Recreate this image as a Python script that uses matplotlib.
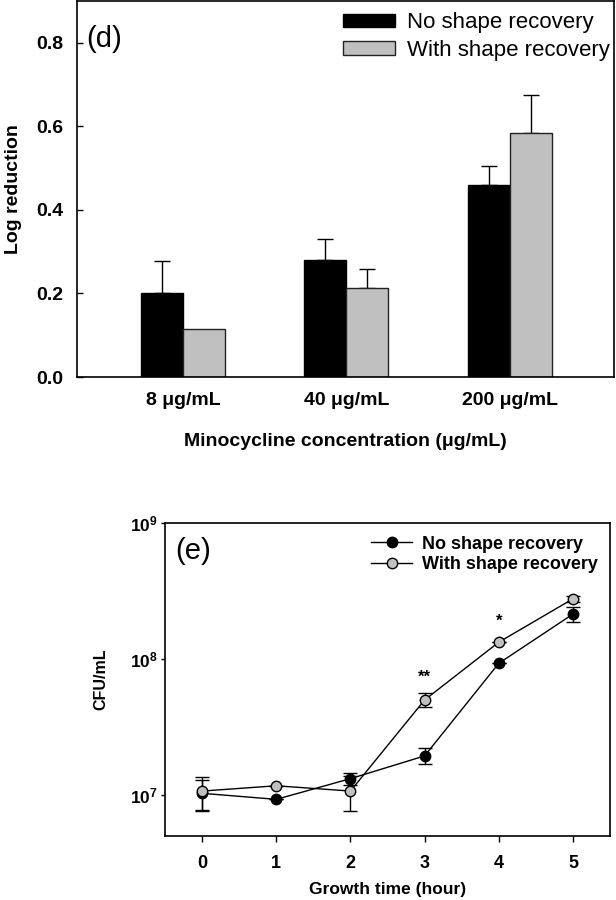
import numpy as np
import matplotlib
matplotlib.use("Agg")
import matplotlib.pyplot as plt
from matplotlib.ticker import FixedLocator, FixedFormatter, NullLocator

plt.rcParams['font.family'] = ['Liberation Sans', 'DejaVu Sans']
plt.rcParams['mathtext.fontset'] = 'custom'
plt.rcParams['mathtext.rm'] = 'Liberation Sans'
plt.rcParams['mathtext.bf'] = 'Liberation Sans:bold'

# ---------------- Data: panel (d) ----------------
concentrations = ["8 \u03bcg/mL", "40 \u03bcg/mL", "200 \u03bcg/mL"]
logred_no_recovery = [0.200, 0.281, 0.459]
logred_no_recovery_err = [0.077, 0.050, 0.047]
logred_with_recovery = [0.1155, 0.213, 0.584]
logred_with_recovery_err = [0.0, 0.046, 0.092]
series_labels = ["No shape recovery", "With shape recovery"]

# ---------------- Data: panel (e) ----------------
growth_time = [0, 1, 2, 3, 4, 5]
cfu_no_recovery = [1.03e7, 9.3e6, 1.32e7, 1.94e7, 9.3e7, 2.14e8]
cfu_no_recovery_err = [2.6e6, 0.0, 1.4e6, 2.6e6, 0.0, 2.7e7]
cfu_with_recovery = [1.07e7, 1.17e7, 1.07e7, 5.0e7, 1.33e8, 2.77e8]
cfu_with_recovery_err = [2.9e6, 0.0, 3.0e6, 5.9e6, 0.0, 1.5e7]
sig_times = [3, 4]
sig_marks = ["**", "*"]
sig_levels = [7.4e7, 1.9e8]
yticks_e = [1e7, 1e8, 1e9]
yticklabels_e = [r"$\mathbf{10^{7}}$", r"$\mathbf{10^{8}}$", r"$\mathbf{10^{9}}$"]

GRAY = "#c0c0c0"

fig = plt.figure(figsize=(6.16, 9.0), dpi=100)

# ================= Panel (d) =================
ax1 = fig.add_axes([0.125, 0.5811, 0.8718, 0.4178])
x = np.arange(len(concentrations))
w = 0.257
ax1.bar(x - w / 2, logred_no_recovery, w, color="black", edgecolor="black",
        linewidth=1.0, label=series_labels[0], zorder=2)
ax1.bar(x + w / 2, logred_with_recovery, w, color=GRAY, edgecolor="#222222",
        linewidth=1.0, label=series_labels[1], zorder=2)
ax1.errorbar(x - w / 2, logred_no_recovery,
             yerr=[np.zeros(len(x)), logred_no_recovery_err],
             fmt="none", ecolor="black", elinewidth=1.0, capsize=6, capthick=1.0, zorder=1)
err_w = np.array(logred_with_recovery_err)
mask = err_w > 0
ax1.errorbar((x + w / 2)[mask], np.array(logred_with_recovery)[mask],
             yerr=[np.zeros(mask.sum()), err_w[mask]],
             fmt="none", ecolor="black", elinewidth=1.0, capsize=6, capthick=1.0, zorder=1)
ax1.set_xlim(-0.65, 2.64)
ax1.set_ylim(0, 0.9)
ax1.set_yticks([0.0, 0.2, 0.4, 0.6, 0.8])
ax1.set_yticklabels(["0.0", "0.2", "0.4", "0.6", "0.8"])
ax1.set_xticks(x)
ax1.set_xticklabels(concentrations)
ax1.tick_params(axis="y", direction="in", length=4, width=1, pad=10, labelsize=14)
ax1.tick_params(axis="x", length=0, pad=11, labelsize=14)
for lab in ax1.get_xticklabels() + ax1.get_yticklabels():
    lab.set_fontweight("bold")
ax1.set_ylabel("Log reduction", fontsize=14, fontweight="bold", labelpad=10)
ax1.set_xlabel("Minocycline concentration (\u03bcg/mL)", fontsize=14, fontweight="bold", labelpad=17)
for s in ax1.spines.values():
    s.set_linewidth(1.2)
ax1.text(0.018, 0.9, "(d)", transform=ax1.transAxes, fontsize=21, va="center", ha="left")
leg1 = ax1.legend(loc="upper right", bbox_to_anchor=(0.996, 0.976), frameon=False,
                  fontsize=16, handlelength=2.3, handleheight=0.55, handletextpad=0.55,
                  labelspacing=0.3, borderaxespad=0.0, borderpad=0.1)

# ================= Panel (e) =================
ax2 = fig.add_axes([0.2679, 0.0711, 0.7224, 0.3478])
ax2.set_yscale("log")
ax2.errorbar(growth_time, cfu_no_recovery, yerr=cfu_no_recovery_err, fmt="none",
             ecolor="black", elinewidth=1.0, capsize=5, capthick=1.0, zorder=1)
ax2.errorbar(growth_time, cfu_with_recovery, yerr=cfu_with_recovery_err, fmt="none",
             ecolor="black", elinewidth=1.0, capsize=5, capthick=1.0, zorder=1)
ax2.plot(growth_time, cfu_no_recovery, color="black", lw=1.0, marker="o", ms=7.5,
         mfc="black", mec="black", mew=1.0, label=series_labels[0], zorder=2)
ax2.plot(growth_time, cfu_with_recovery, color="black", lw=1.0, marker="o", ms=7.5,
         mfc=GRAY, mec="black", mew=1.0, label=series_labels[1], zorder=3)
for t, m, lv in zip(sig_times, sig_marks, sig_levels):
    ax2.text(t, lv, m, ha="center", va="center", fontsize=12, fontweight="bold")
ax2.set_xlim(-0.5, 5.5)
ax2.set_ylim(5e6, 1e9)
ax2.set_xticks(growth_time)
ax2.set_xticklabels([str(t) for t in growth_time])
ax2.yaxis.set_major_locator(FixedLocator(yticks_e))
ax2.yaxis.set_major_formatter(FixedFormatter(yticklabels_e))
ax2.yaxis.set_minor_locator(NullLocator())
ax2.tick_params(axis="x", direction="out", length=4, width=1, pad=10, labelsize=13)
ax2.tick_params(axis="y", direction="out", length=3, width=1, pad=2, labelsize=12.5)
for lab in ax2.get_xticklabels():
    lab.set_fontweight("bold")
ax2.set_ylabel("CFU/mL", fontsize=11.5, fontweight="bold", labelpad=16)
ax2.set_xlabel("Growth time (hour)", fontsize=12.5, fontweight="bold", labelpad=7)
for s in ax2.spines.values():
    s.set_linewidth(1.2)
ax2.text(0.022, 0.911, "(e)", transform=ax2.transAxes, fontsize=21, va="center", ha="left")
leg2 = ax2.legend(loc="upper right", frameon=False, handlelength=2.3,
                  handletextpad=0.5, labelspacing=0.2, borderaxespad=0.3,
                  prop={"size": 13, "weight": "bold"})

fig.savefig("out.png", dpi=100)
